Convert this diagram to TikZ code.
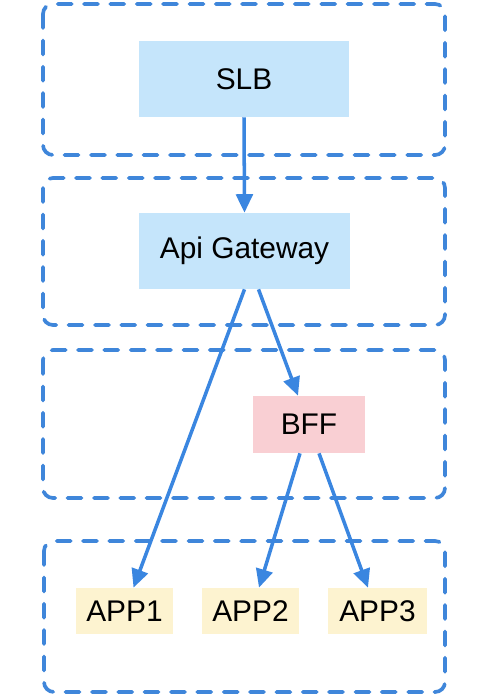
\documentclass[tikz,border=0pt]{standalone}
\usepackage{fontspec}
\setmainfont{Liberation Sans}
\usetikzlibrary{arrows.meta,calc}
\definecolor{layerblue}{HTML}{3F86DA}
\definecolor{arrowblue}{HTML}{3A86E0}
\definecolor{gwfill}{HTML}{C5E5FB}
\definecolor{bfffill}{HTML}{F9CFD3}
\definecolor{appfill}{HTML}{FDF3D0}

\begin{document}
\begin{tikzpicture}[
                x=0.02cm, y=-0.02cm,
                layer/.style={draw=layerblue, line width=2.1pt, line cap=round, dash pattern=on 8pt off 7pt, rounded corners=0.2cm},
                box/.style={inner sep=0pt, font=\fontsize{17}{20}\selectfont},
                flow/.style={draw=arrowblue, line width=2pt, -{Triangle[length=10.5pt,width=9.5pt]}},
            ]
            \useasboundingbox (0,0) rectangle (500,696);

            % Ebenen
            \draw[layer] (43,4) rectangle (445,155);
            \draw[layer] (43,178) rectangle (445,325);
            \draw[layer] (43,350) rectangle (445,498);
            \draw[layer] (44,541) rectangle (445,692);

            % Knoten
            \node[box, fill=gwfill, minimum width=4.2cm, minimum height=1.52cm] (slb) at (244,79) {SLB};
            \node[box, fill=gwfill, minimum width=4.22cm, minimum height=1.52cm] (gw) at (244.5,251) {Api Gateway};
            \node[box, fill=bfffill, minimum width=2.24cm, minimum height=1.14cm] (bff) at (309,424.5) {BFF};
            \node[box, fill=appfill, minimum width=1.94cm, minimum height=0.92cm] (app1) at (124.5,611) {APP1};
            \node[box, fill=appfill, minimum width=1.94cm, minimum height=0.92cm] (app2) at (250.5,611) {APP2};
            \node[box, fill=appfill, minimum width=1.98cm, minimum height=0.92cm] (app3) at (377.5,611) {APP3};

            % Pfeile
            \draw[flow] (slb.south) -- (gw.north);
            \draw[flow] (gw.south) -- ($(app1.north)+(9,0)$);
            \draw[flow] ($(gw.south)+(14,0)$) -- ($(bff.north)+(-11,0)$);
            \draw[flow] ($(bff.south)+(-9,0)$) -- ($(app2.north)+(8.5,0)$);
            \draw[flow] ($(bff.south)+(10,0)$) -- ($(app3.north)+(-9.5,0)$);
        \end{tikzpicture}
\end{document}
